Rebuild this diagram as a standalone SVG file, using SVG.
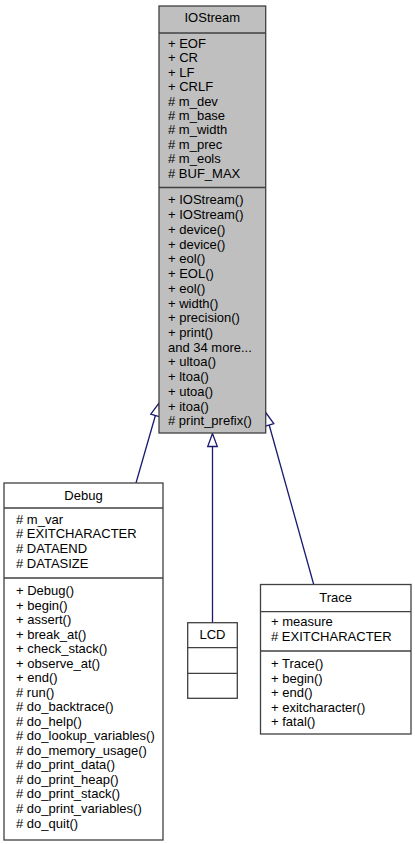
<svg xmlns="http://www.w3.org/2000/svg" width="415" height="844" viewBox="0 0 415 844">
<style>
.box{fill:#ffffff;stroke:#404040;stroke-width:1.3}
.gray{fill:#bfbfbf}
.sep{stroke:#404040;stroke-width:1.3}
text{font-family:"Liberation Sans",Arial,Helvetica,sans-serif;font-size:13px;fill:#000000}
.c{text-anchor:middle}
.edge{stroke:#191970;stroke-width:1.3;fill:none}
.head{fill:#ffffff;stroke:#191970;stroke-width:1.3}
</style>
<rect width="415" height="844" fill="#ffffff"/>
<g id="edges">
<line class="edge" x1="136" y1="483" x2="155.4" y2="415.5"/>
<polygon class="head" points="159,403 160,416.8 150.8,414.2"/>
<line class="edge" x1="212.5" y1="622.7" x2="212.5" y2="446.5"/>
<polygon class="head" points="212.5,433.5 217.3,446.5 207.7,446.5"/>
<line class="edge" x1="314" y1="585.5" x2="269.2" y2="425"/>
<polygon class="head" points="265.7,412.5 273.8,423.7 264.6,426.3"/>
</g>
<g id="IOStream">
<rect class="box gray" x="159" y="6" width="106.7" height="427"/>
<line class="sep" x1="159" y1="33" x2="265.7" y2="33"/>
<line class="sep" x1="159" y1="187.5" x2="265.7" y2="187.5"/>
<text class="c" x="212.3" y="21.7">IOStream</text>
<text x="168" y="47.8">+ EOF</text>
<text x="168" y="62.2">+ CR</text>
<text x="168" y="76.7">+ LF</text>
<text x="168" y="91.1">+ CRLF</text>
<text x="168" y="105.6"># m_dev</text>
<text x="168" y="120"># m_base</text>
<text x="168" y="134.4"># m_width</text>
<text x="168" y="148.9"># m_prec</text>
<text x="168" y="163.3"># m_eols</text>
<text x="168" y="177.8"># BUF_MAX</text>
<text x="168" y="204.4">+ IOStream()</text>
<text x="168" y="219.1">+ IOStream()</text>
<text x="168" y="233.9">+ device()</text>
<text x="168" y="248.6">+ device()</text>
<text x="168" y="263.3">+ eol()</text>
<text x="168" y="278.1">+ EOL()</text>
<text x="168" y="292.8">+ eol()</text>
<text x="168" y="307.5">+ width()</text>
<text x="168" y="322.2">+ precision()</text>
<text x="168" y="337">+ print()</text>
<text x="168" y="351.7">and 34 more...</text>
<text x="168" y="366.4">+ ultoa()</text>
<text x="168" y="381.2">+ ltoa()</text>
<text x="168" y="395.9">+ utoa()</text>
<text x="168" y="410.6">+ itoa()</text>
<text x="168" y="425.4"># print_prefix()</text>
</g>
<g id="Debug">
<rect class="box" x="4" y="483" width="159" height="357"/>
<line class="sep" x1="4" y1="508" x2="163" y2="508"/>
<line class="sep" x1="4" y1="578" x2="163" y2="578"/>
<text class="c" x="83.5" y="499.5">Debug</text>
<text x="16" y="523.5"># m_var</text>
<text x="16" y="538.4"># EXITCHARACTER</text>
<text x="16" y="553.3"># DATAEND</text>
<text x="16" y="568.2"># DATASIZE</text>
<text x="16" y="595">+ Debug()</text>
<text x="16" y="609.5">+ begin()</text>
<text x="16" y="624.1">+ assert()</text>
<text x="16" y="638.6">+ break_at()</text>
<text x="16" y="653.1">+ check_stack()</text>
<text x="16" y="667.7">+ observe_at()</text>
<text x="16" y="682.2">+ end()</text>
<text x="16" y="696.7"># run()</text>
<text x="16" y="711.2"># do_backtrace()</text>
<text x="16" y="725.8"># do_help()</text>
<text x="16" y="740.3"># do_lookup_variables()</text>
<text x="16" y="754.8"># do_memory_usage()</text>
<text x="16" y="769.4"># do_print_data()</text>
<text x="16" y="783.9"># do_print_heap()</text>
<text x="16" y="798.4"># do_print_stack()</text>
<text x="16" y="813"># do_print_variables()</text>
<text x="16" y="827.5"># do_quit()</text>
</g>
<g id="LCD">
<rect class="box" x="187.7" y="622.7" width="49.6" height="75.6"/>
<line class="sep" x1="187.7" y1="647.7" x2="237.3" y2="647.7"/>
<line class="sep" x1="187.7" y1="673.3" x2="237.3" y2="673.3"/>
<text class="c" x="212.5" y="638.8">LCD</text>
</g>
<g id="Trace">
<rect class="box" x="260.5" y="584.5" width="150.5" height="149.5"/>
<line class="sep" x1="260.5" y1="611.7" x2="411" y2="611.7"/>
<line class="sep" x1="260.5" y1="651" x2="411" y2="651"/>
<text class="c" x="335.7" y="601.5">Trace</text>
<text x="271" y="626">+ measure</text>
<text x="271" y="641"># EXITCHARACTER</text>
<text x="271" y="668">+ Trace()</text>
<text x="271" y="682.5">+ begin()</text>
<text x="271" y="697">+ end()</text>
<text x="271" y="711.5">+ exitcharacter()</text>
<text x="271" y="726">+ fatal()</text>
</g>
</svg>
